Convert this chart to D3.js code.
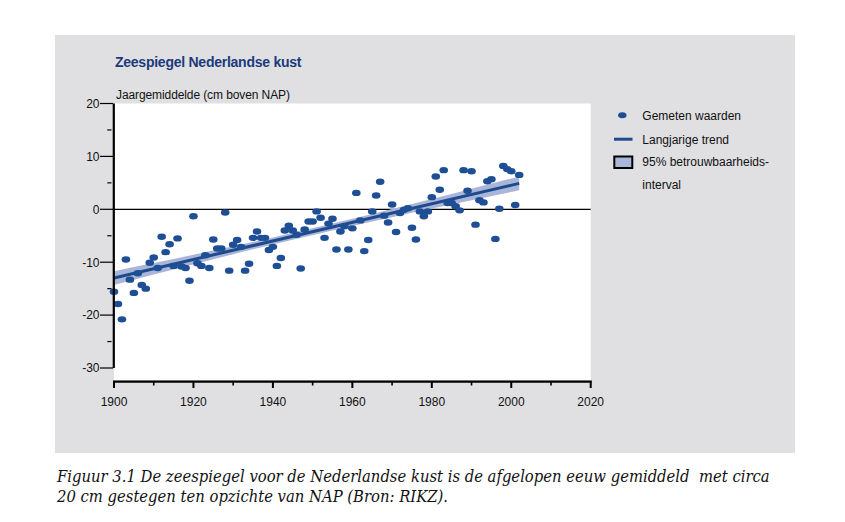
<!DOCTYPE html>
<html>
<head>
<meta charset="utf-8">
<script src="https://cdn.jsdelivr.net/npm/d3@7"></script>
<style>
  html, body { margin: 0; padding: 0; background: #ffffff; }
  svg { display: block; }
  text { font-family: "Liberation Sans", Arial, sans-serif; }
</style>
</head>
<body>
<svg id="chart" width="845" height="522"></svg>
<script>
// ---- Data ----
const years = [1900,1901,1902,1903,1904,1905,1906,1907,1908,1909,
  1910,1911,1912,1913,1914,1915,1916,1917,1918,1919,
  1920,1921,1922,1923,1924,1925,1926,1927,1928,1929,
  1930,1931,1932,1933,1934,1935,1936,1937,1938,1939,
  1940,1941,1942,1943,1944,1945,1946,1947,1948,1949,
  1950,1951,1952,1953,1954,1955,1956,1957,1958,1959,
  1960,1961,1962,1963,1964,1965,1966,1967,1968,1969,
  1970,1971,1972,1973,1974,1975,1976,1977,1978,1979,
  1980,1981,1982,1983,1984,1985,1986,1987,1988,1989,
  1990,1991,1992,1993,1994,1995,1996,1997,1998,1999,
  2000,2001,2002];
const measured = [-15.6,-17.9,-20.8,-9.5,-13.3,-15.8,-12.1,-14.3,-15.0,-10.1,
  -9.1,-11.1,-5.2,-8.1,-6.6,-10.7,-5.5,-10.8,-11.1,-13.5,
  -1.3,-10.2,-10.7,-8.7,-11.1,-5.7,-7.4,-7.4,-0.6,-11.6,
  -6.7,-5.8,-7.1,-11.6,-10.3,-5.4,-4.2,-5.4,-5.4,-7.7,
  -7.1,-10.7,-9.2,-4.0,-3.1,-4.0,-4.8,-11.2,-3.8,-2.3,
  -2.3,-0.4,-1.6,-5.4,-2.7,-1.8,-7.6,-4.2,-3.2,-7.6,
  -3.6,3.1,-2.1,-7.9,-5.8,-0.4,2.6,5.2,-1.2,-2.5,
  0.9,-4.3,-0.7,-0.1,0.2,-3.5,-5.7,-0.4,-1.3,-0.4,
  2.3,6.2,3.7,7.4,1.2,1.2,0.6,-0.2,7.4,3.5,
  7.2,-2.9,1.7,1.3,5.3,5.7,-5.6,0.1,8.2,7.6,
  7.2,0.8,6.5];

const trendYears = [1900, 2002];
const trendValues = [-13.0, 4.9];

const ciYears = [1900, 1910, 1920, 1930, 1940, 1951, 1960, 1970, 1980, 1990, 2002];
const ciLower = [-14.30, -12.33, -10.38, -8.49, -6.65, -4.70, -3.14, -1.48, 0.14, 1.72, 3.60];
const ciUpper = [-11.70, -10.17, -8.60, -6.99, -5.31, -3.40, -1.80, 0.04, 1.94, 3.88, 6.20];

const xMajorTicks = [1900, 1920, 1940, 1960, 1980, 2000, 2020];
const xMinorTicks = [1910, 1930, 1950, 1970, 1990, 2010];
const yMajorTicks = [20, 10, 0, -10, -20, -30];
const yMinorTicks = [15, 5, -5, -15, -25];

const titleText = "Zeespiegel Nederlandse kust";
const subtitleText = "Jaargemiddelde (cm boven NAP)";
const legendLabels = ["Gemeten waarden", "Langjarige trend", "95% betrouwbaarheids-", "interval"];
const captionLines = [
  "Figuur 3.1 De zeespiegel voor de Nederlandse kust is de afgelopen eeuw gemiddeld  met circa",
  "20 cm gestegen ten opzichte van NAP (Bron: RIKZ)."
];

// ---- Styles ----
const panelColor = "#e0e0e2";
const dotColor = "#1e4f95";
const lineColor = "#1f4a8c";
const bandColor = "#aab5da";
const titleColor = "#1b3a7c";

const svg = d3.select("#chart");

// panel
svg.append("rect").attr("x", 55).attr("y", 35).attr("width", 740).attr("height", 418)
  .attr("fill", panelColor);

const x = d3.scaleLinear().domain([1900, 2020]).range([114, 590.7]);
const y = d3.scaleLinear().domain([-30, 20]).range([368, 103.5]);

// white plot area
svg.append("rect").attr("x", x(1900)).attr("y", y(20))
  .attr("width", x(2020) - x(1900)).attr("height", 380 - y(20))
  .attr("fill", "#ffffff");

// title and subtitle
svg.append("text").attr("x", 115).attr("y", 67)
  .attr("font-size", 14).attr("font-weight", "bold").attr("letter-spacing", -0.25)
  .attr("fill", titleColor).text(titleText);
svg.append("text").attr("x", 116).attr("y", 99)
  .attr("font-size", 12).attr("letter-spacing", -0.1)
  .attr("fill", "#111").text(subtitleText);

// zero line
svg.append("line").attr("x1", x(1900)).attr("x2", x(2020))
  .attr("y1", y(0)).attr("y2", y(0))
  .attr("stroke", "#000").attr("stroke-width", 1.3);

// CI band
const band = ciYears.map((yr, i) => ({yr, lo: ciLower[i], hi: ciUpper[i]}));
svg.append("path").datum(band)
  .attr("d", d3.area().x(d => x(d.yr)).y0(d => y(d.lo)).y1(d => y(d.hi)).curve(d3.curveMonotoneX))
  .attr("fill", bandColor);

// trend line
const trend = trendYears.map((yr, i) => ({yr, v: trendValues[i]}));
svg.append("path").datum(trend)
  .attr("d", d3.line().x(d => x(d.yr)).y(d => y(d.v)))
  .attr("fill", "none").attr("stroke", lineColor).attr("stroke-width", 3);

// points
const pts = years.map((yr, i) => ({yr, v: measured[i]}));
svg.append("g").selectAll("ellipse").data(pts).join("ellipse")
  .attr("cx", d => x(d.yr)).attr("cy", d => y(d.v))
  .attr("rx", 4.3).attr("ry", 3.2).attr("fill", dotColor);

// y axis
const yAxis = svg.append("g");
yAxis.append("line").attr("x1", 113.8).attr("x2", 113.8).attr("y1", y(20)).attr("y2", y(-30))
  .attr("stroke", "#000").attr("stroke-width", 2.2);
yAxis.selectAll("line.maj").data(yMajorTicks).join("line").attr("class", "maj")
  .attr("x1", 100).attr("x2", 113).attr("y1", d => y(d)).attr("y2", d => y(d))
  .attr("stroke", "#000").attr("stroke-width", 1.2);
yAxis.selectAll("line.min").data(yMinorTicks).join("line").attr("class", "min")
  .attr("x1", 107.3).attr("x2", 111.5).attr("y1", d => y(d)).attr("y2", d => y(d))
  .attr("stroke", "#000").attr("stroke-width", 1.2);
yAxis.selectAll("text").data(yMajorTicks).join("text")
  .attr("x", 99.5).attr("y", d => y(d)).attr("dy", "0.36em")
  .attr("text-anchor", "end").attr("font-size", 12).attr("fill", "#111")
  .text(d => d);

// x axis
const xAxis = svg.append("g");
xAxis.append("line").attr("x1", x(1900) - 1).attr("x2", x(2020) + 1).attr("y1", 381.7).attr("y2", 381.7)
  .attr("stroke", "#000").attr("stroke-width", 2.2);
xAxis.selectAll("line.maj").data(xMajorTicks).join("line").attr("class", "maj")
  .attr("x1", d => x(d)).attr("x2", d => x(d)).attr("y1", 381).attr("y2", 388)
  .attr("stroke", "#000").attr("stroke-width", 2);
xAxis.selectAll("line.min").data(xMinorTicks).join("line").attr("class", "min")
  .attr("x1", d => x(d)).attr("x2", d => x(d)).attr("y1", 381).attr("y2", 385.5)
  .attr("stroke", "#000").attr("stroke-width", 1.6);
xAxis.selectAll("text").data(xMajorTicks).join("text")
  .attr("x", d => x(d)).attr("y", 406)
  .attr("text-anchor", "middle").attr("font-size", 12).attr("fill", "#111")
  .text(d => d);

// legend
const lg = svg.append("g");
lg.append("ellipse").attr("cx", 622.3).attr("cy", 115.3).attr("rx", 4.2).attr("ry", 3).attr("fill", dotColor);
lg.append("line").attr("x1", 614).attr("x2", 632.5).attr("y1", 139.2).attr("y2", 139.2)
  .attr("stroke", lineColor).attr("stroke-width", 3);
lg.append("rect").attr("x", 614.3).attr("y", 156.5).attr("width", 18).attr("height", 11.5)
  .attr("fill", bandColor).attr("stroke", "#000").attr("stroke-width", 2);
const legendY = [115.5, 139.3, 161.5, 185];
lg.selectAll("text").data(legendLabels).join("text")
  .attr("x", 642.3).attr("y", (d, i) => legendY[i]).attr("dy", "0.36em")
  .attr("font-size", 12).attr("fill", "#111").text(d => d);

// caption
const capBase = [481.5, 502];
const cap = captionLines.map((t, i) => svg.append("text").attr("x", 57).attr("y", capBase[i])
    .style("font-family", "'DejaVu Serif Condensed', 'DejaVu Serif', serif")
    .style("font-stretch", "condensed")
    .style("font-style", "italic")
    .style("white-space", "pre")
    .attr("font-size", 15).attr("fill", "#111").text(t));
const w0 = cap[0].node().getComputedTextLength();
const capSize = 15 * 713 / w0;
cap.forEach(el => el.attr("font-size", capSize));
</script>
</body>
</html>
